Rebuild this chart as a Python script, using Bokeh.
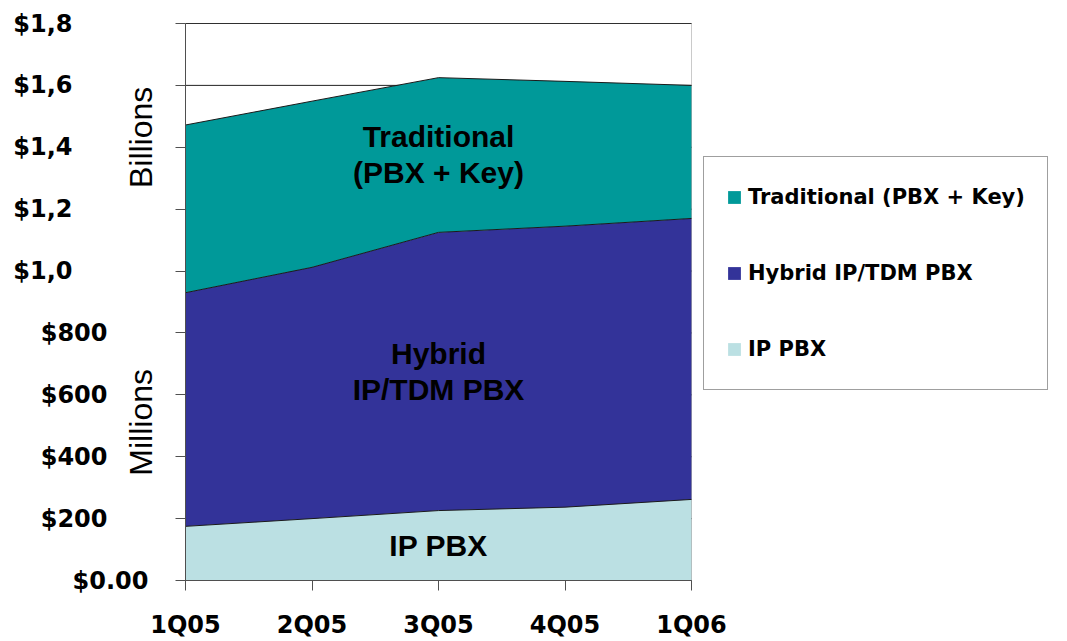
from bokeh.plotting import figure
from bokeh.models import (ColumnDataSource, Range1d, FixedTicker, Label, Legend, LegendItem,
                          LinearAxis, BoxAnnotation)
from bokeh.embed import file_html
from bokeh.resources import INLINE
import math

# ---- data (millions of US$) ----
quarters = ["1Q05", "2Q05", "3Q05", "4Q05", "1Q06"]
ip_pbx = [175, 200, 226, 237, 262]
hybrid_pbx = [755, 812, 899, 908, 908]
traditional = [542, 537, 500, 468, 430]

series_keys = ["ip", "hybrid", "trad"]
series_names = ["IP PBX", "Hybrid IP/TDM PBX", "Traditional (PBX + Key)"]
series_colors = ["#BBE0E3", "#333399", "#009999"]

y_ticks = [0, 200, 400, 600, 800, 1000, 1200, 1400, 1600, 1800]
y_tick_labels = ["$0.00", "$200", "$400", "$600", "$800", "$1,0", "$1,2", "$1,4", "$1,6", "$1,8"]

# ---- layout (pixels) ----
W, H = 1067, 641
PLOT_L, PLOT_R, PLOT_T, PLOT_B = 185, 691, 23, 580
x_lo, x_hi = 0, len(quarters) - 1
y_lo, y_hi = y_ticks[0], y_ticks[-1]
px_x = (PLOT_R - PLOT_L) / (x_hi - x_lo)
px_y = (PLOT_B - PLOT_T) / (y_hi - y_lo)
x_range = Range1d(x_lo - PLOT_L / px_x, x_hi + (W - PLOT_R) / px_x)
y_range = Range1d(y_lo - (H - PLOT_B) / px_y, y_hi + PLOT_T / px_y)

x_idx = list(range(len(quarters)))
source = ColumnDataSource(dict(x=x_idx, ip=ip_pbx, hybrid=hybrid_pbx, trad=traditional))

p = figure(width=W, height=H, output_backend="svg", toolbar_location=None,
           x_range=x_range, y_range=y_range, x_axis_type=None, y_axis_type=None,
           min_border=0, min_border_left=0, min_border_right=0, min_border_top=0, min_border_bottom=0)
p.title.visible = False
p.background_fill_color = "white"
p.border_fill_color = "white"
p.outline_line_color = None
p.xgrid.visible = False
p.ygrid.visible = False

# horizontal gridlines (behind the areas)
p.segment(x0=[x_lo] * len(y_ticks), x1=[x_hi] * len(y_ticks), y0=y_ticks, y1=y_ticks,
          line_color="#222222", line_width=1)

areas = p.varea_stack(stackers=series_keys, x="x", color=series_colors, source=source)
p.vline_stack(stackers=series_keys, x="x", color="#1a1a1a", line_width=1, source=source)

# empty swatch renderers so legend squares get a dark outline
empty = ColumnDataSource(dict(l=[], r=[], b=[], t=[]))
swatches = [p.quad(left="l", right="r", bottom="b", top="t", source=empty,
                   fill_color=c, line_color="#222222", line_width=1) for c in series_colors]

# plot-area border (top / right)
p.add_layout(BoxAnnotation(left=x_lo, right=x_hi, bottom=y_lo, top=y_hi, fill_color=None,
                           line_color="#505050", line_width=1))

# axes fixed at the plot-area edges
xaxis = LinearAxis(fixed_location=y_lo, bounds=(x_lo, x_hi), ticker=FixedTicker(ticks=x_idx))
xaxis.major_label_overrides = {i: q for i, q in enumerate(quarters)}
xaxis.major_label_text_font = "DejaVu Sans"
xaxis.major_label_text_font_style = "bold"
xaxis.major_label_text_font_size = "24px"
xaxis.major_label_text_color = "black"
xaxis.major_label_standoff = 20
xaxis.major_tick_out = 10
xaxis.major_tick_in = 0
xaxis.minor_tick_line_color = None
xaxis.axis_line_color = "#505050"
xaxis.major_tick_line_color = "#505050"
p.add_layout(xaxis, "below")

yaxis = LinearAxis(fixed_location=x_lo, bounds=(y_lo, y_hi), ticker=FixedTicker(ticks=y_ticks))
yaxis.major_label_text_color = None
yaxis.major_tick_out = 10
yaxis.major_tick_in = 0
yaxis.minor_tick_line_color = None
yaxis.axis_line_color = "#505050"
yaxis.major_tick_line_color = "#505050"
p.add_layout(yaxis, "left")

# y tick labels (irregular alignment as in the original slide)
for v, lab in zip(y_ticks, y_tick_labels):
    if v == 0:
        off = -37
    elif v < 1000:
        off = -78
    else:
        off = -113
    p.add_layout(Label(x=x_lo, y=v, x_offset=off, text=lab, text_align="right", text_baseline="middle",
                       text_font="DejaVu Sans", text_font_style="bold", text_font_size="24px",
                       text_color="black"))

# unit labels
p.add_layout(Label(x=x_lo, y=1432, x_offset=-45, text="Billions", angle=math.pi / 2, text_align="center",
                   text_baseline="middle", text_font="Liberation Sans", text_font_size="32px",
                   text_color="black"))
p.add_layout(Label(x=x_lo, y=511, x_offset=-45, text="Millions", angle=math.pi / 2, text_align="center",
                   text_baseline="middle", text_font="Liberation Sans", text_font_size="32px",
                   text_color="black"))

# in-area labels
for txt, yy in [("Traditional\n(PBX + Key)", 1377), ("Hybrid\nIP/TDM PBX", 675), ("IP PBX", 113)]:
    p.add_layout(Label(x=2, y=yy, text=txt, text_align="center", text_baseline="middle",
                       text_font="Liberation Sans", text_font_style="bold", text_font_size="30px",
                       text_color="black", text_line_height=1.1))

# legend
items = [LegendItem(label=series_names[i], renderers=[areas[i], swatches[i]]) for i in [2, 1, 0]]
legend = Legend(items=items, location=(703, 251), padding=22, spacing=40,
                glyph_width=16, glyph_height=16, label_standoff=6, label_height=36,
                label_text_font="DejaVu Sans", label_text_font_style="bold", label_text_font_size="21px",
                label_text_color="black", border_line_color="#404040", border_line_width=1,
                background_fill_color="white", background_fill_alpha=1.0, margin=0)
p.add_layout(legend, "center")

open("out.html", "w").write(file_html(p, INLINE))
